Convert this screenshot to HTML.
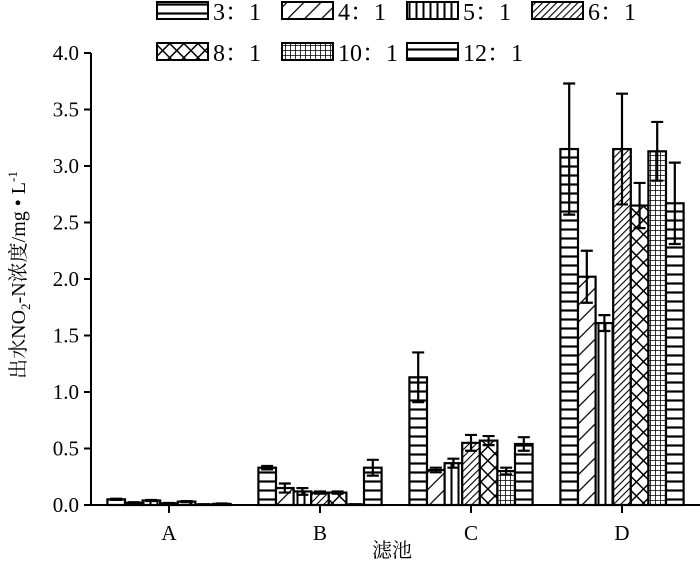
<!DOCTYPE html>
<html><head><meta charset="utf-8"><style>
body{margin:0;background:#fff}
svg text{font-family:"Liberation Serif","Noto Serif CJK SC",serif;fill:#000}
</style></head><body>
<svg id="c" width="700" height="563" viewBox="0 0 700 563">
<defs>
<pattern id="p0" width="9" height="9" patternUnits="userSpaceOnUse"><rect width="9" height="9" fill="#fff"/><path d="M0 4.5H9" stroke="#000" stroke-width="2.2"/></pattern>
<pattern id="p1" width="12" height="12" patternUnits="userSpaceOnUse" patternTransform="rotate(45)"><rect width="12" height="12" fill="#fff"/><path d="M0 0V12" stroke="#000" stroke-width="2.5"/></pattern>
<pattern id="p2" width="7" height="7" patternUnits="userSpaceOnUse"><rect width="7" height="7" fill="#fff"/><path d="M3.5 0V7" stroke="#000" stroke-width="2"/></pattern>
<pattern id="p3" width="5" height="5" patternUnits="userSpaceOnUse" patternTransform="rotate(45)"><rect width="5" height="5" fill="#fff"/><path d="M0 0V5" stroke="#000" stroke-width="2.2"/></pattern>
<pattern id="p4" width="10" height="10" patternUnits="userSpaceOnUse" patternTransform="rotate(45)"><rect width="10" height="10" fill="#fff"/><path d="M0 0V10M0 0H10" stroke="#000" stroke-width="3"/></pattern>
<pattern id="p5" width="5" height="5" patternUnits="userSpaceOnUse"><rect width="5" height="5" fill="#fff"/><path d="M0 0V5M0 0H5" stroke="#000" stroke-width="1.6"/></pattern>
<pattern id="p6" width="9" height="9" patternUnits="userSpaceOnUse"><rect width="9" height="9" fill="#fff"/><path d="M0 4.5H9" stroke="#000" stroke-width="2.2"/></pattern>
</defs>
<g id="plot"></g>
</svg>
<script>
const categories=["A","B","C","D"];
const seriesNames=["3：1","4：1","5：1","6：1","8：1","10：1","12：1"];
const s0=[0.05,0.33,1.13,3.15];
const s1=[0.02,0.15,0.31,2.02];
const s2=[0.04,0.12,0.37,1.61];
const s3=[0.015,0.11,0.55,3.15];
const s4=[0.03,0.11,0.57,2.65];
const s5=[0.005,0.005,0.30,3.13];
const s6=[0.01,0.33,0.54,2.67];
const e0=[0.005,0.015,0.22,0.58];
const e1=[0.005,0.04,0.02,0.23];
const e2=[0.005,0.03,0.04,0.07];
const e3=[0.003,0.01,0.07,0.49];
const e4=[0.005,0.01,0.04,0.2];
const e5=[0.002,0.002,0.03,0.26];
const e6=[0.003,0.07,0.06,0.36];
const yTicks=["0.0","0.5","1.0","1.5","2.0","2.5","3.0","3.5","4.0"];
const series=[s0,s1,s2,s3,s4,s5,s6],errs=[e0,e1,e2,e3,e4,e5,e6];
const NS="http://www.w3.org/2000/svg",g=document.getElementById('plot');
const y=v=>505-v*113, xc=i=>169+i*151, bw=17.6;
function mk(t,a,p){const e=document.createElementNS(NS,t);for(const k in a)e.setAttribute(k,a[k]);(p||g).appendChild(e);return e;}
let ax=mk('line',{x1:91,y1:53,x2:91,y2:506,stroke:'#000','stroke-width':2});


let xa=mk('line',{x1:90,y1:505,x2:700,y2:505,stroke:'#000','stroke-width':2});


yTicks.forEach(t=>{const v=parseFloat(t);
 mk('line',{x1:84,y1:y(v),x2:91,y2:y(v),stroke:'#000','stroke-width':2});
 const tx=mk('text',{x:79,y:y(v)+7,'text-anchor':'end','font-size':21});tx.textContent=t;
 
 
});
categories.forEach((c,i)=>{
 mk('line',{x1:xc(i),y1:505,x2:xc(i),y2:513,stroke:'#000','stroke-width':2});
 const tx=mk('text',{x:xc(i),y:540,'text-anchor':'middle','font-size':21});tx.textContent=c;
 
 
 series.forEach((s,j)=>{
  const x0=xc(i)-3.5*bw+j*bw, v=s[i], h=Math.max(505-y(v),0.5);
  const r=mk('rect',{x:x0,y:y(v),width:bw,height:h,fill:'url(#p'+j+')',stroke:'#000','stroke-width':2.2});
  
  
  const e=errs[j][i],cx=x0+bw/2;
  const eb=mk('path',{d:`M${cx} ${y(v+e)}V${y(Math.max(v-e,0))}M${cx-6} ${y(v+e)}H${cx+6}M${cx-6} ${y(Math.max(v-e,0))}H${cx+6}`,stroke:'#000','stroke-width':2.2,fill:'none'});
  
  
 });
});
seriesNames.forEach((n,j)=>{
 const col=j<4?j:j-4,row=j<4?0:1;
 const lx=157+col*125,ly=row?43:2;
 const gg=mk('g',{});
 
 
 mk('rect',{x:lx,y:ly,width:51,height:17,fill:'url(#p'+j+')',stroke:'#000','stroke-width':2},gg);
 const t=mk('text',{x:lx+56,y:ly+18,'font-size':24},gg);t.textContent=n;
});
let yt=mk('text',{x:0,y:0,'font-size':20,'text-anchor':'middle',transform:'translate(25,275) rotate(-90)'});
yt.innerHTML='出水NO<tspan font-size="13" dy="5">2</tspan><tspan dy="-5">-N浓度/mg • L</tspan><tspan font-size="13" dy="-8">-1</tspan>';


let xt=mk('text',{x:392,y:557,'font-size':20,'text-anchor':'middle'});xt.textContent='滤池';


</script>
</body></html>
